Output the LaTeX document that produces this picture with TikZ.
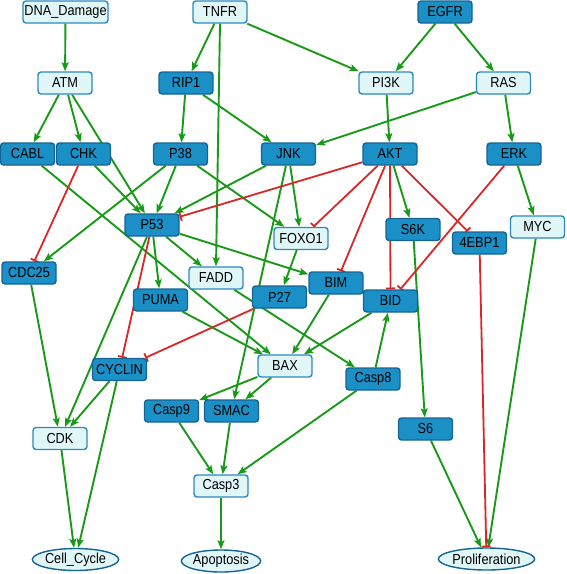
\documentclass[tikz,border=0pt]{standalone}
\usepackage{fontspec}
\setmainfont{Liberation Sans}[FakeStretch=0.88]
\usetikzlibrary{arrows.meta,shapes.geometric}
\definecolor{darkfill}{RGB}{26,144,198}
\definecolor{darkline}{RGB}{22,100,148}
\definecolor{lightfill}{RGB}{224,246,247}
\definecolor{lightline}{RGB}{44,136,192}
\definecolor{actgreen}{RGB}{24,154,24}
\definecolor{inhred}{RGB}{218,38,38}
\pgfdeclarelayer{bg}
\pgfsetlayers{bg,main}
\begin{document}
\begin{tikzpicture}[x=1pt,y=-1pt,
  base/.style={rounded corners=3pt, minimum width=54pt, minimum height=22pt, inner sep=0pt, line width=1.4pt, font=\fontsize{14.5}{14.5}\selectfont},
  darkbox/.style={base, draw=darkline, fill=darkfill},
  lightbox/.style={base, draw=lightline, fill=lightfill},
  outbox/.style={ellipse, minimum width=79pt, minimum height=22pt, inner sep=0pt, line width=1.4pt, draw=darkline, fill=lightfill, font=\fontsize{14.5}{14.5}\selectfont},
  act/.style={draw=actgreen, line width=1.9pt, -{Stealth[length=9pt,width=7pt,inset=1.8pt]}},
  inh/.style={draw=inhred, line width=1.8pt, -{Bar[width=9pt,line width=1.8pt]}},
]
\useasboundingbox (0,0) rectangle (566,574);
% row 1
\node[lightbox, minimum width=85pt] (DNA) at (65.5,12) {DNA\_Damage};
\node[lightbox] (TNFR) at (220,12) {TNFR};
\node[darkbox] (EGFR) at (445,12) {EGFR};
% row 2
\node[lightbox] (ATM) at (65,83) {ATM};
\node[darkbox] (RIP1) at (186,83) {RIP1};
\node[lightbox] (PI3K) at (386,83) {PI3K};
\node[lightbox] (RAS) at (503.5,83) {RAS};
% row 3
\node[darkbox] (CABL) at (27.5,154) {CABL};
\node[darkbox] (CHK) at (83.5,154) {CHK};
\node[darkbox] (P38) at (180.5,154) {P38};
\node[darkbox] (JNK) at (288.5,154) {JNK};
\node[darkbox] (AKT) at (390,154) {AKT};
\node[darkbox] (ERK) at (514,154) {ERK};
% row 4
\node[darkbox] (P53) at (152,225) {P53};
\node[lightbox] (FOXO1) at (301,238.5) {FOXO1};
\node[darkbox] (S6K) at (413,229.5) {S6K};
\node[darkbox] (EBP) at (479.5,243) {4EBP1};
\node[lightbox] (MYC) at (537.5,227) {MYC};
\node[darkbox] (CDC25) at (29,273) {CDC25};
\node[lightbox] (FADD) at (216,278) {FADD};
\node[darkbox] (PUMA) at (160.5,300) {PUMA};
\node[darkbox] (P27) at (279.5,297) {P27};
\node[darkbox] (BIM) at (336,283) {BIM};
\node[darkbox] (BID) at (390.5,301) {BID};
% row 5
\node[lightbox] (BAX) at (285,366) {BAX};
\node[darkbox] (Casp8) at (373,379) {Casp8};
\node[darkbox] (CYCLIN) at (119.5,369.5) {CYCLIN};
\node[darkbox] (Casp9) at (171.5,411) {Casp9};
\node[darkbox] (SMAC) at (231.5,411) {SMAC};
\node[lightbox] (CDK) at (60,438.5) {CDK};
\node[darkbox] (S6) at (425.5,429) {S6};
\node[lightbox] (Casp3) at (221,486) {Casp3};
% outputs
\node[outbox] (Cell) at (75.5,559.5) {Cell\_Cycle};
\node[outbox] (Apop) at (221,561) {Apoptosis};
\node[outbox] (Prol) at (486.5,559) {Proliferation};

\begin{pgfonlayer}{bg}
\draw[act] (DNA) -- (ATM);
\draw[act] (TNFR) -- (RIP1);
\draw[act] (TNFR.south) -- (FADD.north);
\draw[act] (TNFR) -- (PI3K);
\draw[act] (EGFR) -- (PI3K);
\draw[act] (EGFR) -- (RAS);
\draw[act] (ATM) -- (CABL);
\draw[act] (ATM) -- (CHK);
\draw[act] (ATM) -- (P53);
\draw[act] (RIP1) -- (P38);
\draw[act] (RIP1) -- (JNK);
\draw[act] (PI3K) -- (AKT);
\draw[act] (RAS) -- (JNK);
\draw[act] (RAS) -- (ERK);
\draw[act] (CHK) -- (P53);
\draw[act] (CABL) -- (BAX);
\draw[act] (P38) -- (CDC25);
\draw[act] (P38) -- (P53);
\draw[act] (P38) -- (FOXO1);
\draw[act] (JNK) -- (P53);
\draw[act] (JNK) -- (FOXO1);
\draw[act] (JNK) -- (SMAC);
\draw[act] (AKT) -- (S6K);
\draw[act] (ERK) -- (MYC);
\draw[act] (P53) -- (PUMA);
\draw[act] (P53) -- (FADD);
\draw[act] (P53) -- (BIM);
\draw[act] (P53) -- (CDK);
\draw[act] (FOXO1) -- (P27);
\draw[act] (FADD) -- (Casp8);
\draw[act] (PUMA) -- (BAX);
\draw[act] (BIM) -- (BAX);
\draw[act] (BID) -- (BAX);
\draw[act] (Casp8) -- (BID);
\draw[act] (Casp8) -- (Casp3);
\draw[act] (BAX) -- (Casp9);
\draw[act] (BAX) -- (SMAC);
\draw[act] (Casp9) -- (Casp3);
\draw[act] (SMAC) -- (Casp3);
\draw[act] (Casp3) -- (Apop);
\draw[act] (CDC25) -- (CDK);
\draw[act] (CYCLIN) -- (CDK);
\draw[act] (CYCLIN) -- (Cell);
\draw[act] (CDK) -- (Cell);
\draw[act] (S6K) -- (S6);
\draw[act] (S6) -- (Prol);
\draw[act] (MYC) -- (Prol);
\draw[inh] (CHK) -- (CDC25);
\draw[inh] (AKT) -- (P53);
\draw[inh] (AKT) -- (FOXO1);
\draw[inh] (AKT) -- (BIM);
\draw[inh] (AKT) -- (BID);
\draw[inh] (AKT) -- (EBP);
\draw[inh] (ERK) -- (BID);
\draw[inh] (P53) -- (CYCLIN);
\draw[inh] (P27) -- (CYCLIN);
\draw[inh] (EBP) -- (Prol);
\end{pgfonlayer}
\end{tikzpicture}
\end{document}
